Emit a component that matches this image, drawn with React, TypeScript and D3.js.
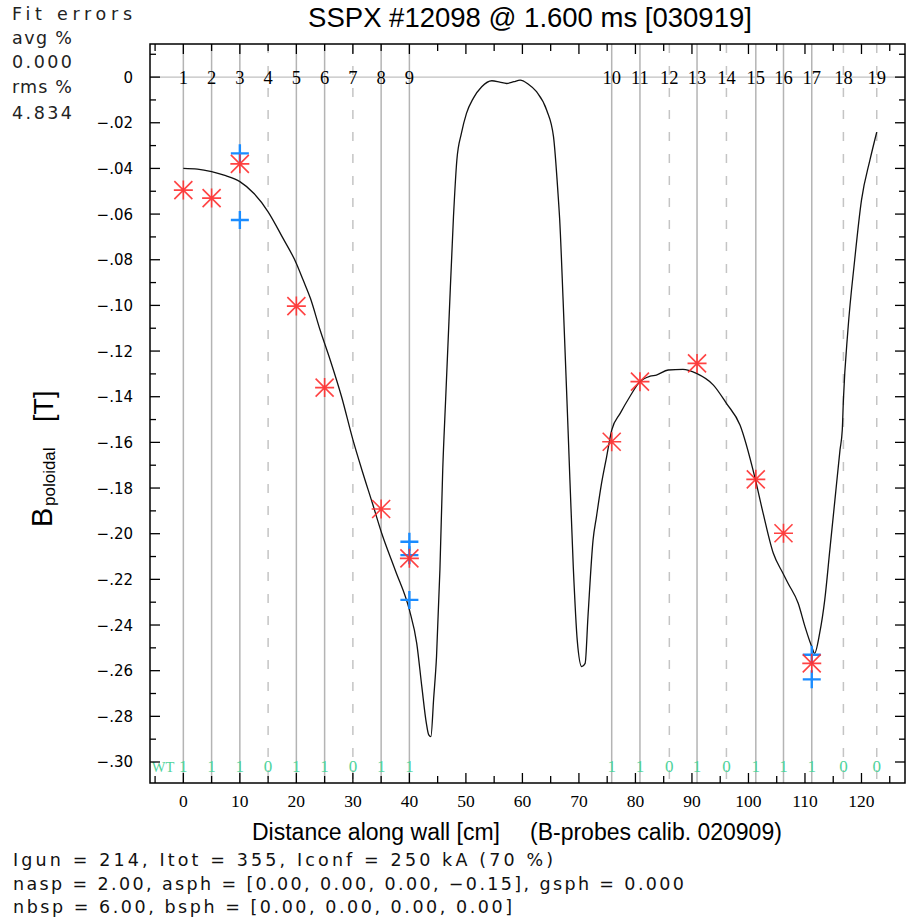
import React from "react";
import * as d3 from "d3";

// ---------- data ----------
const probeNames = ["1","2","3","4","5","6","7","8","9","10","11","12","13","14","15","16","17","18","19"];
const probeX = [0, 5, 10, 15, 20, 25, 30, 35, 40, 75.8, 80.8, 86.0, 90.9, 96.1, 101.3, 106.2, 111.2, 116.8, 122.7];
const probeStatus = [1,1,1,0,1,1,0,1,1,1,1,0,1,0,1,1,1,0,0];

// measured (red asterisks): probe index (0-based) and value [T]
const measProbe = [0, 1, 2, 4, 5, 7, 8, 9, 10, 12, 14, 15, 16];
const measVal = [-0.0495, -0.053, -0.038, -0.1003, -0.136, -0.1892, -0.2108, -0.1597, -0.1334, -0.1254, -0.1762, -0.1998, -0.2568];

// individual probe readings (blue pluses)
const bluProbe = [2, 2, 8, 8, 8, 16, 16];
const bluVal = [-0.0334, -0.0626, -0.2035, -0.2094, -0.229, -0.253, -0.2638];

// fitted profile (black line)
const fitX = [0, 2.5, 5, 7.5, 10, 12.5, 15, 17.5, 20, 21.2, 22.5, 24.2, 26, 28, 30, 31.6, 33.5, 35.1, 37.5, 40,
  41.3, 42.2, 43.0, 43.4, 43.8, 44.3, 44.8, 45.4, 45.9, 46.4, 47.0, 47.8, 48.4, 49.2, 50.1, 51.3, 52.8, 54.6,
  56.0, 57.2, 58.5, 59.6, 61.0, 62.5, 64.3, 65.5, 66.3, 66.6, 67.2, 68.1, 69.0, 69.7, 70.5, 71.1, 71.6, 72.5,
  73.1, 74.0, 74.9, 75.8, 77.3, 79.0, 80.8, 82.6, 83.7, 85.8, 88.4, 90.8, 93.8, 96.1, 98.5, 101.1, 102.6, 104.4,
  106.1, 107.0, 108.8, 110.0, 111.2, 111.7, 112.6, 113.5, 114.4, 115.3, 116.2, 116.6, 116.8, 117.6, 118.8, 120.0,
  121.5, 122.7];
const fitY = [-0.0400, -0.0403, -0.0414, -0.0432, -0.0458, -0.0510, -0.0590, -0.0700, -0.0816, -0.0889, -0.0970,
  -0.1108, -0.1240, -0.1400, -0.1588, -0.1721, -0.1870, -0.1998, -0.2160, -0.2334,
  -0.2480, -0.2670, -0.2830, -0.2880, -0.2889, -0.2720, -0.2539, -0.2159, -0.1720, -0.1420, -0.1070, -0.0612,
  -0.0363, -0.0247, -0.0159, -0.0093, -0.0042, -0.0016,
  -0.0022, -0.0028, -0.0020, -0.0013, -0.0030, -0.0064, -0.0145, -0.0261, -0.0510, -0.0626, -0.0977, -0.1560,
  -0.2145, -0.2466, -0.2582, -0.2568, -0.2364, -0.2028,
  -0.1926, -0.1780, -0.1663, -0.1546, -0.1473, -0.1400, -0.1334, -0.1310, -0.1305, -0.1283, -0.1280, -0.1298,
  -0.1349, -0.1429, -0.1524, -0.1750, -0.1911, -0.2086,
  -0.2173, -0.2217, -0.2305, -0.2407, -0.2495, -0.2524, -0.2436, -0.2290, -0.2071, -0.1852, -0.1633, -0.1546,
  -0.1414, -0.1108, -0.0800, -0.0539, -0.0363, -0.0241];

const xTickVals = d3.range(-5, 126, 5);
const xLabelVals = d3.range(0, 121, 10);
const yTickVals = d3.range(1, -31, -1).map((d) => d / 100);
const yLabelVals = d3.range(0, -31, -2).map((d) => d / 100);

const titleText = "SSPX #12098 @ 1.600 ms [030919]";
const fitLines = ["Fit errors", "avg %", "0.000", "rms %", "4.834"];
const infoLines = [
  "Igun = 214, Itot = 355, Iconf = 250 kA (70 %)",
  "nasp = 2.00, asph = [0.00, 0.00, 0.00, \u22120.15], gsph = 0.000",
  "nbsp = 6.00, bsph = [0.00, 0.00, 0.00, 0.00]",
];

// ---------- layout ----------
const W = 906, H = 922;
const L = 150, R = 905, T = 44, B = 783;

export default function App() {
  const x = d3.scaleLinear().domain([-5.9, 127.7]).range([L, R]);
  const y = d3.scaleLinear().domain([0.0145, -0.3092]).range([T, B]);
  const line = d3.line<number>().x((_, i) => x(fitX[i])).y((d) => y(d)).curve(d3.curveMonotoneX);

  const fmtY = (v: number) => {
    const n = Math.round(-v * 100);
    return n === 0 ? "0" : "\u2212." + String(n).padStart(2, "0");
  };
  const isMajorY = (v: number) => Math.round(v * 100) % 2 === 0;

  const serif = "'Liberation Serif', 'DejaVu Serif', serif";
  const sans = "'Liberation Sans', Arial, sans-serif";
  const hers = "'DejaVu Sans', sans-serif";

  const star = (cx: number, cy: number, r: number) =>
    `M${cx - r},${cy}h${2 * r}M${cx},${cy - r}v${2 * r}M${cx - r + 0.5},${cy - r + 0.5}L${cx + r - 0.5},${cy + r - 0.5}M${cx - r + 0.5},${cy + r - 0.5}L${cx + r - 0.5},${cy - r + 0.5}`;
  const plus = (cx: number, cy: number, r: number) => `M${cx - r},${cy}h${2 * r}M${cx},${cy - r}v${2 * r}`;

  const infoWidths = [540, 671, 499];
  const fitWidths = [120, 60, 60, 60, 60];
  const fitBase = [20, 44, 68, 93, 119];
  const green = "#4fd39b";

  return (
    <svg width={W} height={H} style={{ position: "absolute", left: 0, top: 0, background: "#fff" }}>
      <rect x={0} y={0} width={W} height={H} fill="#fff" />
      {/* zero line */}
      <line x1={L} x2={R} y1={y(0)} y2={y(0)} stroke="#b0b0b0" strokeWidth={1} />
      {/* probe lines */}
      {probeX.map((px, i) => (
        <line key={"pl" + i} x1={x(px)} x2={x(px)} y1={T} y2={B}
          stroke={probeStatus[i] ? "#b4b4b4" : "#c4c4c4"} strokeWidth={1.5}
          strokeDasharray={probeStatus[i] ? undefined : "9,13"} />
      ))}
      {/* probe names */}
      {probeX.map((px, i) => (
        <text key={"pn" + i} x={x(px)} y={y(0) + 6.5} textAnchor="middle" fontFamily={serif} fontSize={18.5} fill="#000">
          {probeNames[i]}
        </text>
      ))}
      {/* status labels */}
      <text x={163} y={772} textAnchor="middle" fontFamily={serif} fontSize={14.5} fill={green}>WT</text>
      {probeX.map((px, i) => (
        <text key={"ps" + i} x={x(px)} y={772} textAnchor="middle" fontFamily={serif} fontSize={17} fill={green}>
          {probeStatus[i]}
        </text>
      ))}
      {/* fit curve */}
      <path d={line(fitY) || ""} fill="none" stroke="#111" strokeWidth={1.3} />
      {/* blue pluses */}
      {bluProbe.map((p, i) => (
        <path key={"b" + i} d={plus(x(probeX[p]), y(bluVal[i]), 9)} stroke="#1a8cff" strokeWidth={2.4} fill="none" />
      ))}
      {/* red asterisks */}
      {measProbe.map((p, i) => (
        <path key={"r" + i} d={star(x(probeX[p]), y(measVal[i]), 9.5)} stroke="#ff2d2d" strokeOpacity={0.9} strokeWidth={1.6} fill="none" />
      ))}
      {/* frame */}
      <rect x={L} y={T} width={R - L} height={B - T} fill="none" stroke="#000" strokeWidth={1.5} />
      {/* x ticks */}
      {xTickVals.map((v) => {
        const len = v % 10 === 0 ? 10 : 7;
        return (
          <g key={"xt" + v}>
            <line x1={x(v)} x2={x(v)} y1={B} y2={B - len} stroke="#000" strokeWidth={1.3} />
            <line x1={x(v)} x2={x(v)} y1={T} y2={T + len} stroke="#000" strokeWidth={1.3} />
          </g>
        );
      })}
      {xLabelVals.map((v) => (
        <text key={"xl" + v} x={x(v)} y={807} textAnchor="middle" fontFamily={serif} fontSize={17.5} fill="#000">
          {v}
        </text>
      ))}
      {/* y ticks */}
      {yTickVals.map((v) => {
        const len = isMajorY(v) ? 10 : 6;
        return (
          <g key={"yt" + v}>
            <line x1={L} x2={L + len} y1={y(v)} y2={y(v)} stroke="#000" strokeWidth={1.3} />
            <line x1={R} x2={R - len} y1={y(v)} y2={y(v)} stroke="#000" strokeWidth={1.3} />
          </g>
        );
      })}
      {yLabelVals.map((v) => (
        <text key={"yl" + v} x={133} y={y(v) + 5.5} textAnchor="end" fontFamily={hers} fontSize={15} fill="#000">
          {fmtY(v)}
        </text>
      ))}
      {/* title */}
      <text x={530} y={27} textAnchor="middle" fontFamily={sans} fontSize={27.5} fill="#000">{titleText}</text>
      {/* x axis title */}
      <text x={252} y={840} fontFamily={sans} fontSize={23} fill="#000">Distance along wall [cm]</text>
      <text x={530} y={840} fontFamily={sans} fontSize={23} fill="#000">(B-probes calib. 020909)</text>
      {/* y axis title */}
      <text transform="translate(52,527) rotate(-90)" fontFamily={sans} fontSize={29} fill="#000">B</text>
      <text transform="translate(55,506) rotate(-90)" fontFamily={sans} fontSize={17} fill="#000">poloidal</text>
      <text transform="translate(53,422) rotate(-90)" fontFamily={sans} fontSize={27} fill="#000">[T]</text>
      {/* fit errors */}
      {fitLines.map((s, i) => (
        <text key={"fe" + i} x={12} y={fitBase[i]} fontFamily={hers} fontSize={17.5} fill="#222"
          textLength={fitWidths[i]} lengthAdjust="spacing">{s}</text>
      ))}
      {/* info lines */}
      {infoLines.map((s, i) => (
        <text key={"in" + i} x={13} y={866 + i * 23.5} fontFamily={hers} fontSize={17.5} fill="#111"
          textLength={infoWidths[i]} lengthAdjust="spacing">{s}</text>
      ))}
    </svg>
  );
}
